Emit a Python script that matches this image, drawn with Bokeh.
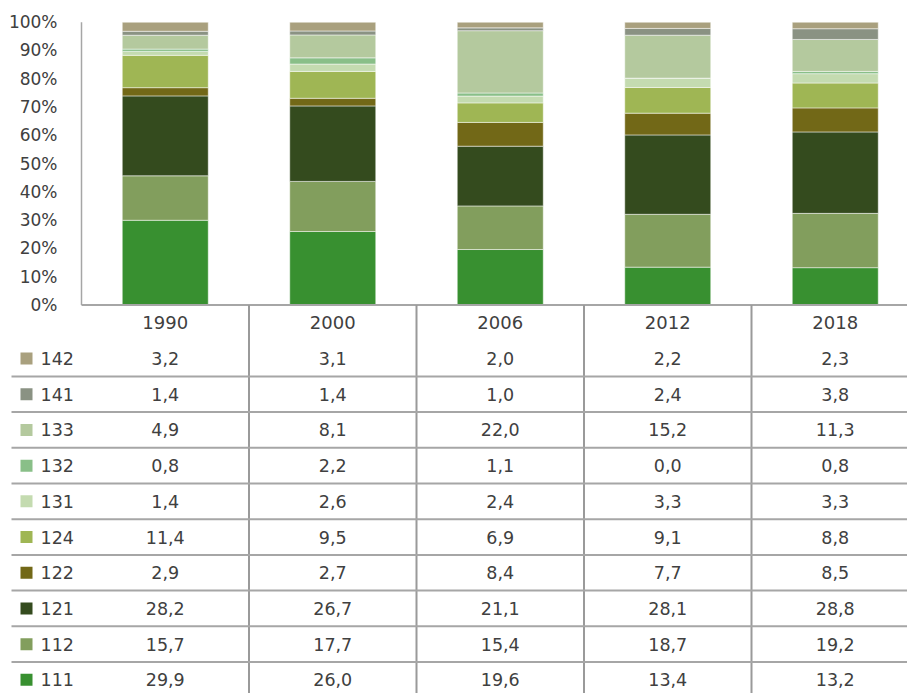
from bokeh.plotting import figure
from bokeh.models import Range1d, ColumnDataSource
from bokeh.core.properties import value
from bokeh.embed import file_html
from bokeh.resources import INLINE

# ---------------- data ----------------
years = ["1990", "2000", "2006", "2012", "2018"]
codes = ["142", "141", "133", "132", "131", "124", "122", "121", "112", "111"]  # table order (top -> bottom)
v142 = [3.2, 3.1, 2.0, 2.2, 2.3]
v141 = [1.4, 1.4, 1.0, 2.4, 3.8]
v133 = [4.9, 8.1, 22.0, 15.2, 11.3]
v132 = [0.8, 2.2, 1.1, 0.0, 0.8]
v131 = [1.4, 2.6, 2.4, 3.3, 3.3]
v124 = [11.4, 9.5, 6.9, 9.1, 8.8]
v122 = [2.9, 2.7, 8.4, 7.7, 8.5]
v121 = [28.2, 26.7, 21.1, 28.1, 28.8]
v112 = [15.7, 17.7, 15.4, 18.7, 19.2]
v111 = [29.9, 26.0, 19.6, 13.4, 13.2]
y_ticks = [0, 0.1, 0.2, 0.3, 0.4, 0.5, 0.6, 0.7, 0.8, 0.9, 1.0]
colors = ["#a9a07e", "#8a9283", "#b4c99e", "#89bf88", "#c4dbb0",
          "#9fb654", "#726817", "#344b1e", "#829e5d", "#389030"]

series = [v142, v141, v133, v132, v131, v124, v122, v121, v112, v111]

FONT = "DejaVu Sans"
TXT = "#404040"
GRID = "#a6a6a6"

# ---------------- geometry (pixels) ----------------
W, H = 907, 693          # figure size; figure sits at the page origin
ORG = 0
CAT_PX = 167.5           # width of one category
AXIS_X = 81              # pixel of the y axis line
TOP_Y, ZERO_Y = 21.7, 304.5   # pixels of 100% and 0%
ROW_PX = 35.7            # table row height
PCT_PX = ZERO_Y - TOP_Y

def px_x(px):
    return (px - AXIS_X) / CAT_PX

x_start = px_x(ORG)
x_end = px_x(ORG + W)
y_end = (ZERO_Y - ORG) / PCT_PX
y_start = (ZERO_Y - ORG - H) / PCT_PX
u_top = (ORG - ZERO_Y) / ROW_PX
u_bot = (ORG + H - ZERO_Y) / ROW_PX

p = figure(width=W, height=H, output_backend="svg", toolbar_location=None,
           x_range=Range1d(x_start, x_end), y_range=Range1d(y_start, y_end),
           x_axis_location=None, y_axis_location=None,
           min_border=0, outline_line_color=None)
p.extra_y_ranges = {"tbl": Range1d(start=u_bot, end=u_top)}
p.xgrid.visible = False
p.ygrid.visible = False

# ---------------- stacked 100% bars ----------------
n = len(years)
xs = [i + 0.5 for i in range(n)]
totals = [sum(s[i] for s in series) for i in range(n)]
stack_order = list(reversed(codes))          # bottom -> top
stack_vals = list(reversed(series))
stack_cols = list(reversed(colors))
data = {"x": xs}
for c, s in zip(stack_order, stack_vals):
    data[c] = [s[i] / totals[i] for i in range(n)]
src = ColumnDataSource(data)
p.vbar_stack(stack_order, x="x", width=86 / CAT_PX, source=src, color=stack_cols,
             line_color="white", line_width=0.7, line_alpha=0.7)

# ---------------- y axis ----------------
p.segment(x0=[0], y0=[0], x1=[0], y1=[1], line_color=GRID, line_width=1.5)
p.text(x=[px_x(57)] * len(y_ticks), y=y_ticks,
       text=[f"{round(v * 100)}%" for v in y_ticks],
       text_align="right", text_baseline="middle", text_font=value(FONT),
       text_font_size="17px", text_color=TXT)

# ---------------- table ----------------
# x axis line and column separators
p.segment(x0=[0], y0=[0], x1=[x_end], y1=[0], line_color=GRID, line_width=2,
          y_range_name="tbl")
p.segment(x0=[1, 2, 3, 4], y0=[0] * 4, x1=[1, 2, 3, 4], y1=[u_bot] * 4,
          line_color="#9a9a9a", line_width=2, y_range_name="tbl")
sep = list(range(2, len(codes) + 1))
p.segment(x0=[px_x(11)] * len(sep), y0=sep, x1=[x_end] * len(sep), y1=sep,
          line_color=GRID, line_width=2, y_range_name="tbl")

# header (years)
p.text(x=xs, y=[0.5] * n, text=years, text_align="center", text_baseline="middle",
       text_font=value(FONT), text_font_size="18px", text_color=TXT,
       y_range_name="tbl")

# rows
for r, (c, s, col) in enumerate(zip(codes, series, colors)):
    yy = 1.5 + r
    p.scatter(x=[px_x(26)], y=[yy], marker="square", size=12,
              fill_color=col, line_color=None, y_range_name="tbl")
    p.text(x=[px_x(40)], y=[yy], text=[c], text_align="left",
           text_baseline="middle", text_font=value(FONT), text_font_size="17.5px",
           text_color=TXT, y_range_name="tbl")
    p.text(x=xs, y=[yy] * n, text=[f"{v:.1f}".replace(".", ",") for v in s],
           text_align="center", text_baseline="middle", text_font=value(FONT),
           text_font_size="17.5px", text_color=TXT, y_range_name="tbl")

open("out.html", "w").write(file_html(p, INLINE))
